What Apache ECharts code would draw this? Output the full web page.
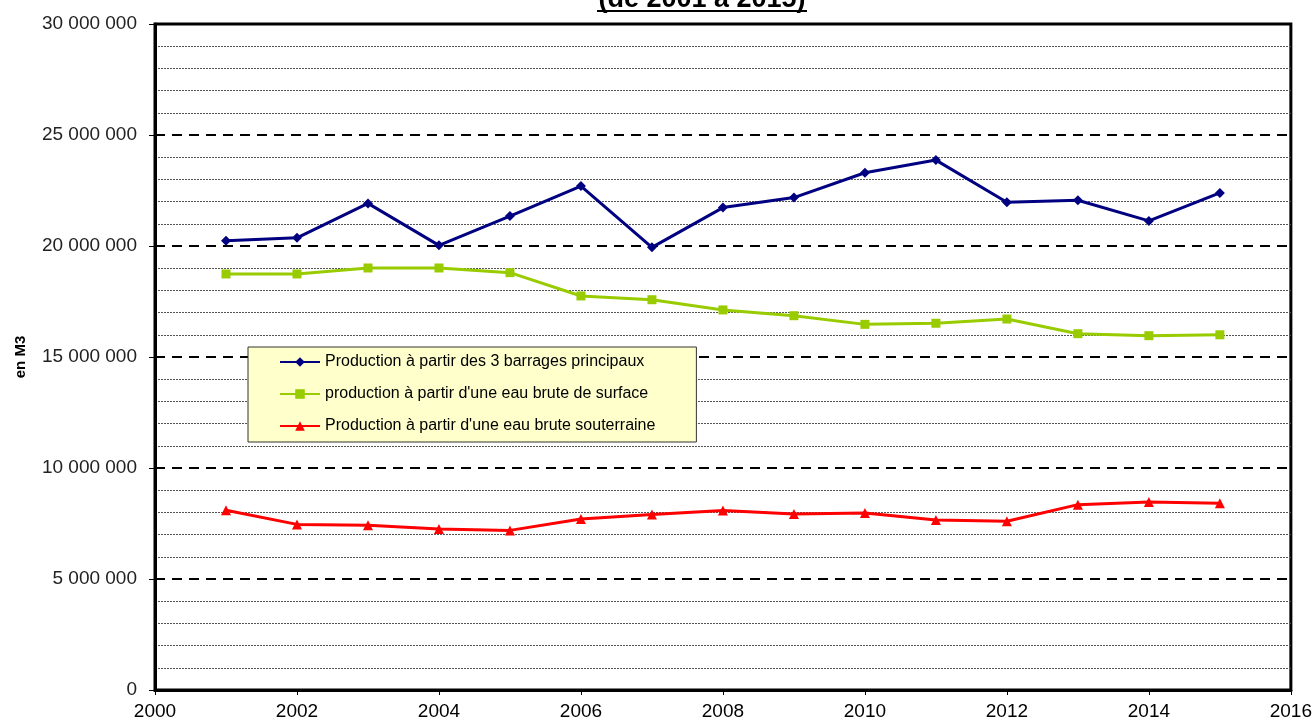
<!DOCTYPE html>
<html><head><meta charset="utf-8">
<script src="https://cdn.jsdelivr.net/npm/echarts@6/dist/echarts.min.js"></script>
<style>html,body{margin:0;padding:0;background:#fff}#c{width:1315px;height:722px}</style>
</head><body><div id="c"></div>
<script>
const years = [2001,2002,2003,2004,2005,2006,2007,2008,2009,2010,2011,2012,2013,2014,2015];
const barrages = [20240000,20370000,21920000,20030000,21350000,22700000,19940000,21730000,22180000,23300000,23870000,21970000,22060000,21130000,22390000];
const surface = [18740000,18740000,19010000,19010000,18800000,17750000,17580000,17120000,16860000,16470000,16520000,16710000,16050000,15960000,16000000];
const souterraine = [8100000,7460000,7420000,7250000,7190000,7700000,7910000,8090000,7930000,7970000,7660000,7600000,8350000,8470000,8410000];
const seriesNames = ["Production à partir des 3 barrages principaux","production à partir d'une eau brute de surface","Production à partir d'une eau brute souterraine"];
const titleText = "(de 2001 à 2015)";
const yName = "en M3";

const pair = v => years.map((y,i)=>[y,v[i]]);
const fmt = v => String(v).replace(/\B(?=(\d{3})+(?!\d))/g,' ');
const F = 'Liberation Sans, Arial, sans-serif';
const chart = echarts.init(document.getElementById('c'));
chart.setOption({
  animation:false,
  grid:{left:155,right:22,top:24,bottom:32,show:true,borderColor:'#000',borderWidth:3,backgroundColor:'transparent'},
  graphic:[
    {type:'text',x:702,y:0,style:{text:titleText,font:'bold 27px '+F,fill:'#000',textAlign:'center',textVerticalAlign:'middle'},z:10},
    {type:'line',shape:{x1:597,y1:11,x2:807,y2:11},style:{stroke:'#000',lineWidth:2},z:10}
  ],
  legend:{
    orient:'vertical',left:248,top:347,
    backgroundColor:'#ffffcc',borderColor:'#333',borderWidth:1,
    padding:[7,41,8,31],itemGap:16,itemWidth:40,itemHeight:12,
    textStyle:{fontFamily:F,fontSize:16,color:'#000'},
    data:seriesNames
  },
  xAxis:{type:'value',min:2000,max:2016,interval:2,
    axisLine:{lineStyle:{color:'#000',width:3}},
    axisTick:{show:true,length:5,lineStyle:{color:'#000',width:1}},
    axisLabel:{fontFamily:F,fontSize:19,color:'#000',margin:12,formatter:v=>String(v)},
    splitLine:{show:false}},
  yAxis:{type:'value',min:0,max:30000000,interval:5000000,
    name:yName,nameLocation:'middle',nameGap:127,
    nameTextStyle:{fontFamily:F,fontSize:15,fontWeight:'bold',color:'#000'},
    axisLine:{show:true,lineStyle:{color:'#000',width:3}},
    axisTick:{show:true,length:6,lineStyle:{color:'#000',width:1}},
    axisLabel:{fontFamily:F,fontSize:19,color:'#222',margin:18,formatter:fmt},
    splitLine:{show:true,lineStyle:{color:'#000',width:2,type:[10,7]}},
    minorTick:{show:false,splitNumber:5},
    minorSplitLine:{show:true,lineStyle:{color:'#555',width:1,type:[2,1]}}},
  series:[
    {name:seriesNames[0],type:'line',data:pair(barrages),symbol:'diamond',symbolSize:10,
      lineStyle:{color:'#000080',width:3},itemStyle:{color:'#000080'},z:5},
    {name:seriesNames[1],type:'line',data:pair(surface),symbol:'rect',symbolSize:9,
      lineStyle:{color:'#99cc00',width:3},itemStyle:{color:'#99cc00'},z:5},
    {name:seriesNames[2],type:'line',data:pair(souterraine),symbol:'triangle',symbolSize:10,
      lineStyle:{color:'#ff0000',width:3},itemStyle:{color:'#ff0000'},z:5}
  ]
});
</script></body></html>
